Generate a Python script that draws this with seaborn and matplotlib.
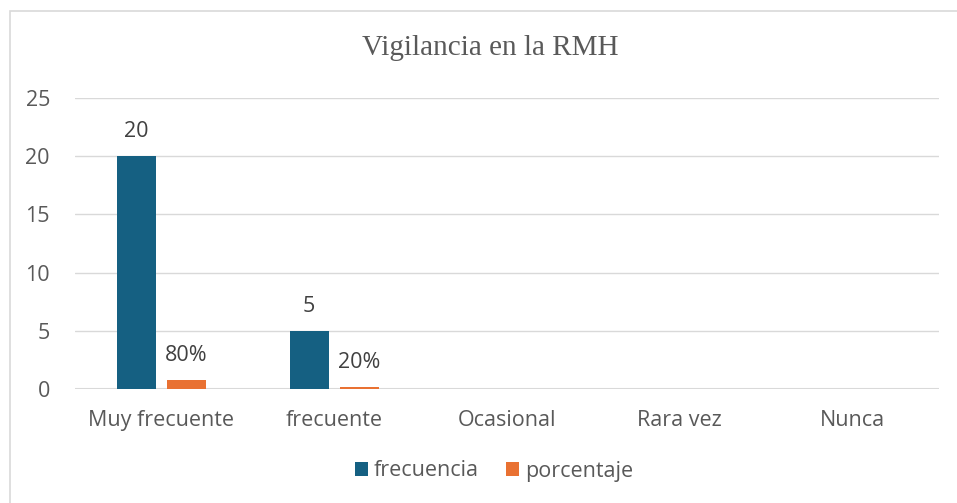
import matplotlib
matplotlib.use("Agg")
import matplotlib.pyplot as plt
from matplotlib.patches import Rectangle
import pandas as pd
import seaborn as sns

categorias = ["Muy frecuente", "frecuente", "Ocasional", "Rara vez", "Nunca"]
frecuencia = [20, 5, 0, 0, 0]
porcentaje = [0.8, 0.2, 0, 0, 0]
series = ["frecuencia", "porcentaje"]
colores = ["#156082", "#E97132"]

df = pd.DataFrame({
    "categoria": categorias * 2,
    "valor": frecuencia + porcentaje,
    "serie": [series[0]] * len(categorias) + [series[1]] * len(categorias),
})

sns.set_style("white")
plt.rcParams["font.family"] = ["Open Sans", "DejaVu Sans"]
gris = "#595959"
fs = 15.5

fig = plt.figure(figsize=(9.57, 5.03), dpi=100)
ax = fig.add_axes([75 / 957, 1 - 389 / 503, (939 - 75) / 957, (389 - 98) / 503])

sns.barplot(data=df, x="categoria", y="valor", hue="serie", order=categorias,
            hue_order=series, palette=colores, width=0.58, gap=0.22,
            saturation=1, linewidth=0, ax=ax, legend=True)

# etiquetas de datos (solo valores distintos de cero)
for cont, serie in zip(ax.containers, series):
    vals = frecuencia if serie == "frecuencia" else porcentaje
    if serie == "frecuencia":
        labs = [f"{v:g}" if v else "" for v in vals]
    else:
        labs = [f"{v:.0%}" if v else "" for v in vals]
    ax.bar_label(cont, labels=labs, padding=10, fontsize=fs, color="#404040")

ax.set_ylim(0, 25)
ax.set_yticks(range(0, 26, 5))
ax.set_xlim(-0.5, 4.5)
ax.grid(axis="y", color="#D9D9D9", lw=1)
ax.set_axisbelow(True)
for s in ax.spines.values():
    s.set_visible(False)
ax.axhline(0, color="#D9D9D9", lw=1.5, zorder=0.5)
ax.set_xlabel("")
ax.set_ylabel("")
ax.tick_params(axis="both", length=0, labelsize=fs, labelcolor=gris)
ax.tick_params(axis="x", pad=15)
ax.tick_params(axis="y", pad=18)

fig.text(0.512, 1 - 48 / 503, "Vigilancia en la RMH", ha="center", va="center",
         fontsize=21, color=gris, family="Liberation Serif")

leg = ax.legend(loc="center", bbox_to_anchor=(494 / 957, 1 - 471 / 503),
                bbox_transform=fig.transFigure, ncol=2, frameon=False,
                fontsize=fs, handlelength=0.6, handleheight=0.6,
                handletextpad=0.25, columnspacing=1.3)
for t in leg.get_texts():
    t.set_color(gris)

fig.add_artist(Rectangle((10 / 957, -0.1), 1.0, 1.1 - 11 / 503,
                         transform=fig.transFigure, fill=False,
                         edgecolor="#D9D9D9", lw=1.2, clip_on=False))

fig.savefig("out.png", dpi=100, facecolor="white")
